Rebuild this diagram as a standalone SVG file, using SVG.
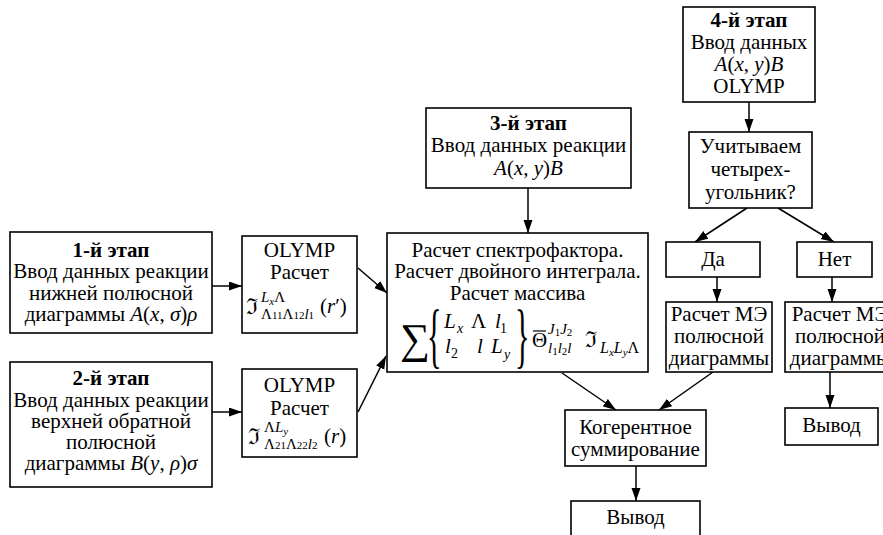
<svg xmlns="http://www.w3.org/2000/svg" width="883" height="535" viewBox="0 0 883 535">
<defs>
<marker id="ah" markerUnits="userSpaceOnUse" markerWidth="14" markerHeight="10" refX="13" refY="4.5" orient="auto">
<path d="M0,0 L13,4.5 L0,9 z" fill="#000"/>
</marker>
<style>
rect{fill:#fff;stroke:#000;stroke-width:1.6}
text{font-family:'Liberation Serif','Times New Roman','DejaVu Serif',serif;font-size:21px;fill:#000}
.c{text-anchor:middle}
.b{font-weight:bold}
.i{font-style:italic}
.f{font-size:21px}
.s{font-size:15px}
.ss{font-size:11px}
.m{font-size:14px}
.conn line{stroke:#000;stroke-width:1.5;marker-end:url(#ah)}
</style>
</defs>
<rect x="0" y="0" width="883" height="535" style="fill:#fff;stroke:none"/>

<g class="conn">
<line x1="212" y1="286" x2="242" y2="286"/>
<line x1="212" y1="412" x2="242" y2="412"/>
<line x1="358" y1="268" x2="387" y2="293"/>
<line x1="358" y1="412" x2="386" y2="356"/>
<line x1="528" y1="188" x2="528" y2="233"/>
<line x1="562" y1="373" x2="616" y2="410"/>
<line x1="713" y1="372" x2="659" y2="410"/>
<line x1="636" y1="466" x2="636" y2="501"/>
<line x1="749" y1="102" x2="749" y2="132"/>
<line x1="747" y1="208" x2="695" y2="242"/>
<line x1="778" y1="208" x2="834" y2="242"/>
<line x1="717" y1="277" x2="717" y2="302"/>
<line x1="832" y1="277" x2="832" y2="302"/>
<line x1="830" y1="372" x2="830" y2="408"/>
</g>

<g font-family="Liberation Serif, Times New Roman, serif">
<g id="stage1">
<rect x="10" y="232" width="202" height="101"/>
<text class="c b" x="111" y="257">1-й этап</text>
<text class="c" x="111" y="278">Ввод данных реакции</text>
<text class="c" x="111" y="300">нижней полюсной</text>
<text class="c" x="111" y="321">диаграммы <tspan class="i">A</tspan>(<tspan class="i">x</tspan>, <tspan class="i">σ</tspan>)<tspan class="i">ρ</tspan></text>
</g>

<g id="stage2">
<rect x="10" y="362" width="202" height="125"/>
<text class="c b" x="111" y="385">2-й этап</text>
<text class="c" x="111" y="407">Ввод данных реакции</text>
<text class="c" x="111" y="428">верхней обратной</text>
<text class="c" x="111" y="449">полюсной</text>
<text class="c" x="111" y="470">диаграммы <tspan class="i">B</tspan>(<tspan class="i">y</tspan>, <tspan class="i">ρ</tspan>)<tspan class="i">σ</tspan></text>
</g>

<g id="olymp1">
<rect x="242" y="236" width="115" height="97"/>
<text class="c" x="299.5" y="257">OLYMP</text>
<text class="c" x="299.5" y="279">Расчет</text>
<text x="246" y="314" style="font-size:22px">ℑ</text>
<text x="261" y="302"><tspan class="i s">L</tspan><tspan class="i ss" dy="3">x</tspan><tspan class="s" dy="-3">Λ</tspan></text>
<text x="261" y="319"><tspan class="s">Λ</tspan><tspan class="ss">11</tspan><tspan class="s">Λ</tspan><tspan class="ss">12</tspan><tspan class="s i">l</tspan><tspan class="ss">1</tspan></text>
<text x="320" y="313" class="f">(<tspan class="i">r</tspan>′)</text>
</g>

<g id="olymp2">
<rect x="242" y="369" width="115" height="88"/>
<text class="c" x="299.5" y="392">OLYMP</text>
<text class="c" x="299.5" y="415">Расчет</text>
<text x="248" y="444" style="font-size:22px">ℑ</text>
<text x="264" y="432"><tspan class="s">Λ</tspan><tspan class="i s">L</tspan><tspan class="i ss" dy="3">y</tspan></text>
<text x="264" y="449"><tspan class="s">Λ</tspan><tspan class="ss">21</tspan><tspan class="s">Λ</tspan><tspan class="ss">22</tspan><tspan class="s i">l</tspan><tspan class="ss">2</tspan></text>
<text x="324" y="443" class="f">(<tspan class="i">r</tspan>)</text>
</g>

<g id="stage3">
<rect x="426" y="108" width="205" height="80"/>
<text class="c b" x="528.5" y="130">3-й этап</text>
<text class="c" x="528.5" y="152">Ввод данных реакции</text>
<text class="c" x="528.5" y="175"><tspan class="i">A</tspan>(<tspan class="i">x</tspan>, <tspan class="i">y</tspan>)<tspan class="i">B</tspan></text>
</g>

<g id="calc">
<rect x="387" y="233" width="261" height="139"/>
<text class="c" x="517.5" y="257">Расчет спектрофактора.</text>
<text class="c" x="517.5" y="278">Расчет двойного интеграла.</text>
<text class="c" x="517.5" y="300">Расчет массива</text>
<text x="400" y="353" style="font-size:42px">∑</text>
<text transform="translate(427,359) scale(0.42,1)" x="0" y="0" style="font-size:72px">{</text>
<text x="444" y="328" class="i f">L</text><text x="457" y="333" class="i m">x</text>
<text x="471" y="328" class="f">Λ</text>
<text x="495" y="328" class="i f">l</text><text x="500" y="333" class="m">1</text>
<text x="445" y="353" class="i f">l</text><text x="451" y="358" class="m">2</text>
<text x="477" y="353" class="i f">l</text>
<text x="491" y="353" class="i f">L</text><text x="504" y="359" class="i m">y</text>
<text transform="translate(515,359) scale(0.42,1)" x="0" y="0" style="font-size:72px">}</text>
<text x="532" y="347" class="f">Θ</text>
<line x1="533" y1="331" x2="546" y2="331" style="stroke:#000;stroke-width:1.2"/>
<text x="548" y="334"><tspan class="i s">J</tspan><tspan class="ss" dy="2">1</tspan><tspan class="i s" dy="-2">J</tspan><tspan class="ss" dy="2">2</tspan></text>
<text x="548" y="353"><tspan class="i s">l</tspan><tspan class="ss" dy="2">1</tspan><tspan class="i s" dy="-2">l</tspan><tspan class="ss" dy="2">2</tspan><tspan class="i s" dy="-2">l</tspan></text>
<text x="585" y="347" style="font-size:22px">ℑ</text>
<text x="600" y="353"><tspan class="i s" style="font-size:16px">L</tspan><tspan class="i ss" dy="3">x</tspan><tspan class="i s" style="font-size:16px" dy="-3">L</tspan><tspan class="i ss" dy="3">y</tspan><tspan class="s" style="font-size:16px" dy="-3">Λ</tspan></text>
</g>

<g id="coherent">
<rect x="565" y="410" width="141" height="56"/>
<text class="c" x="635.5" y="434">Когерентное</text>
<text class="c" x="635.5" y="456">суммирование</text>
</g>

<g id="out1">
<rect x="571" y="501" width="129" height="50"/>
<text class="c" x="635.5" y="524">Вывод</text>
</g>

<g id="stage4">
<rect x="683" y="7" width="132" height="95"/>
<text class="c b" x="749" y="27">4-й этап</text>
<text class="c" x="749" y="49">Ввод данных</text>
<text class="c" x="749" y="71"><tspan class="i">A</tspan>(<tspan class="i">x</tspan>, <tspan class="i">y</tspan>)<tspan class="i">B</tspan></text>
<text class="c" x="749" y="93">OLYMP</text>
</g>

<g id="question">
<rect x="689" y="132" width="123" height="76"/>
<text class="c" x="750.5" y="153">Учитываем</text>
<text class="c" x="750.5" y="176">четырех-</text>
<text class="c" x="750.5" y="199">угольник?</text>
</g>

<g id="yes">
<rect x="666" y="242" width="94" height="35"/>
<text class="c" x="713" y="266">Да</text>
</g>

<g id="no">
<rect x="797" y="242" width="75" height="35"/>
<text class="c" x="834.5" y="266">Нет</text>
</g>

<g id="me1">
<rect x="666" y="302" width="106" height="70"/>
<text class="c" x="719" y="321">Расчет МЭ</text>
<text class="c" x="719" y="343">полюсной</text>
<text class="c" x="719" y="365">диаграммы</text>
</g>

<g id="me2">
<rect x="785" y="302" width="110" height="70"/>
<text class="c" x="840" y="321">Расчет МЭ</text>
<text class="c" x="840" y="343">полюсной</text>
<text class="c" x="840" y="365">диаграммы</text>
</g>

<g id="out2">
<rect x="785" y="408" width="93" height="37"/>
<text class="c" x="831.5" y="432">Вывод</text>
</g>
</g>
</svg>
